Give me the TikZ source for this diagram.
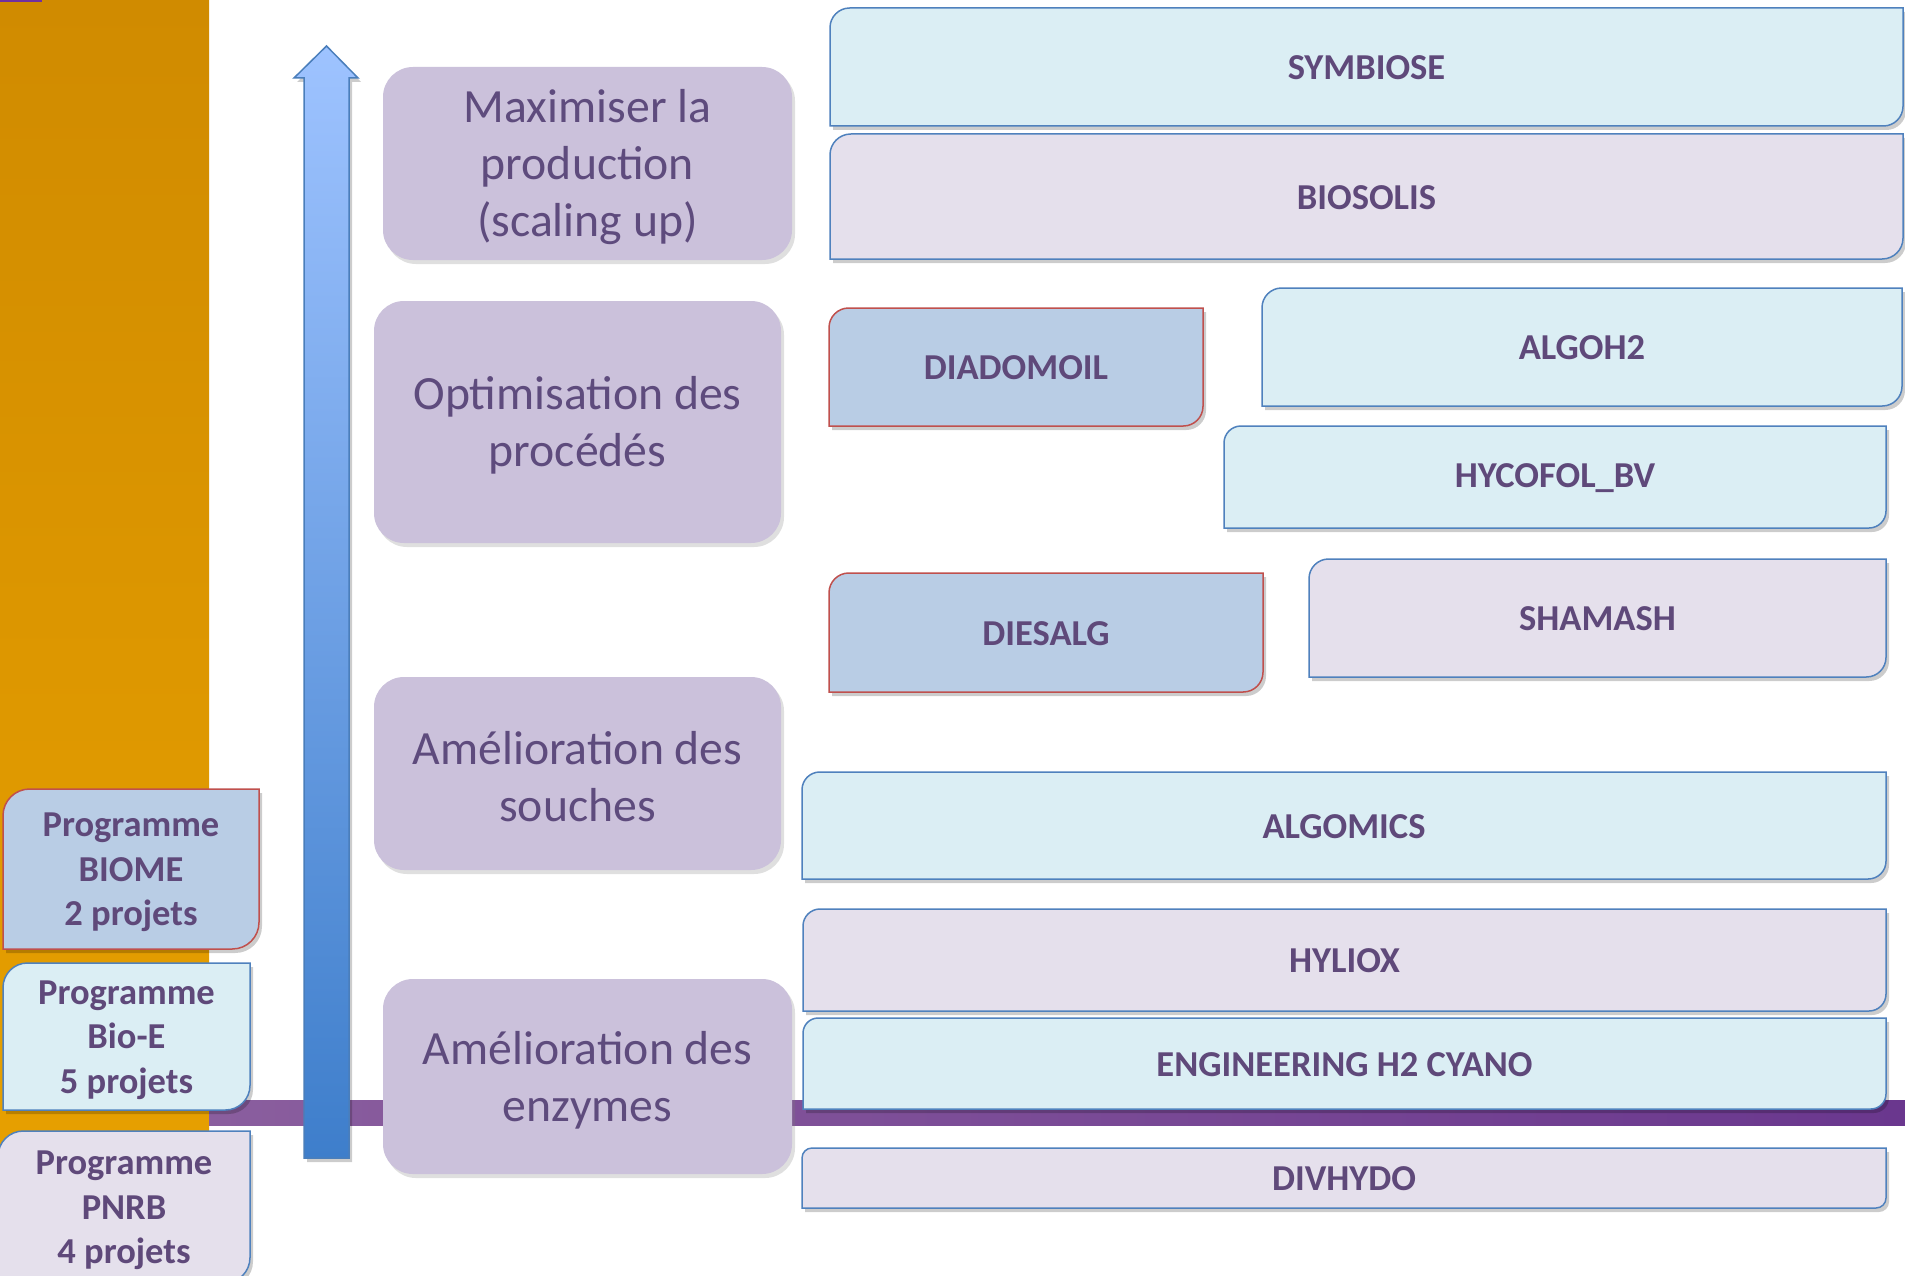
\documentclass[tikz,border=0pt]{standalone}
\usepackage{fontspec}
\setmainfont{Carlito}
\usetikzlibrary{shadows}
\definecolor{txt}{HTML}{5F497A}
\definecolor{stxt}{HTML}{5E4B7D}
\definecolor{lblue}{HTML}{DBEEF4}
\definecolor{lilac}{HTML}{E5E0EC}
\definecolor{mblue}{HTML}{B9CDE5}
\definecolor{bdblue}{HTML}{4F81BD}
\definecolor{bdred}{HTML}{C0504D}
\definecolor{stagec}{HTML}{CBC1DB}
\definecolor{orA}{HTML}{D08B00}
\definecolor{orB}{HTML}{E9A200}
\definecolor{bandA}{HTML}{8A5E9E}
\definecolor{bandB}{HTML}{6A378E}
\definecolor{arrA}{HTML}{9EC3FF}
\definecolor{arrB}{HTML}{3E7ECB}
\definecolor{arrD}{HTML}{4A7EBB}
\definecolor{tinyp}{HTML}{7030A0}
\tikzset{
  boxtext/.style={font=\bfseries\fontsize{36.5}{44.5}\selectfont, text=txt, align=center, inner sep=0pt},
  stagebox/.style={fill=stagec, rounded corners=30pt, inner sep=0pt,
    drop shadow={shadow xshift=3pt, shadow yshift=-4pt, opacity=0.25}},
  stagetext/.style={align=center, text=stxt, font=\fontsize{47.7}{57}\selectfont, inner sep=0pt},
  boxline/.style={line width=1.5pt},
}
\def\dbShift{3.5}
% name, x1, y1, x2, y2, fill, draw, text
\newcommand\dbox[8]{%
  \pgfmathsetmacro\dbXa{#2}\pgfmathsetmacro\dbYa{#3}%
  \pgfmathsetmacro\dbXb{#4}\pgfmathsetmacro\dbYb{#5}%
  \pgfmathsetmacro\dbR{0.1667*min(#4-#2,#5-#3)}%
  \pgfmathsetmacro\dbK{0.4477*\dbR}%
  \def\dbPath{({\dbXa},{\dbYb}) -- ({\dbXa},{\dbYa+\dbR}) .. controls ({\dbXa},{\dbYa+\dbK}) and ({\dbXa+\dbK},{\dbYa}) .. ({\dbXa+\dbR},{\dbYa}) -- ({\dbXb},{\dbYa}) -- ({\dbXb},{\dbYb-\dbR}) .. controls ({\dbXb},{\dbYb-\dbK}) and ({\dbXb-\dbK},{\dbYb}) .. ({\dbXb-\dbR},{\dbYb}) -- cycle}%
  \fill[black, opacity=0.2, shift={(3,4)}] \dbPath;
  \filldraw[fill=#6, draw=#7, boxline] \dbPath;
  \node[boxtext] (#1) at ({(#2+#4)/2},{(#3+#5)/2+\dbShift}) {#8};
}
\begin{document}
\begin{tikzpicture}[x=1pt,y=-1pt]
\useasboundingbox (0,0) rectangle (1905,1276);
\clip (0,0) rectangle (1905,1276);
\fill[white] (0,0) rectangle (1905,1276);
% orange side panel
\shade[top color=orA, bottom color=orB] (0,0) rectangle (209,1276);
\fill[tinyp] (0,0) rectangle (42,2);
% purple band
\shade[left color=bandA, right color=bandB] (209,1100) rectangle (1905,1125);
% programme boxes
\dbox{biome}{3}{789}{259}{949}{mblue}{bdred}{Programme\\BIOME\\2 projets}
\dbox{bioe}{3}{963}{250}{1110}{lblue}{bdblue}{Programme\\Bio-E\\5 projets}
\dbox{pnrb}{-2}{1131}{250}{1283}{lilac}{bdblue}{Programme\\PNRB\\4 projets}
% vertical arrow
\fill[black, opacity=0.2, shift={(3,4)}] (304,1158) -- (304,78) -- (294,78) -- (326.5,46) -- (358,78) -- (349,78) -- (349,1158) -- cycle;
\shade[top color=arrA, bottom color=arrB, draw=arrD, line width=1.5pt] (304,1158) -- (304,78) -- (294,78) -- (326.5,46) -- (358,78) -- (349,78) -- (349,1158) -- cycle;
% stages
\node[stagebox, minimum width=409pt, minimum height=193pt] (s1) at (587.5,163.5) {};
\node[stagebox, minimum width=407pt, minimum height=242pt] (s2) at (577.5,422) {};
\node[stagebox, minimum width=407pt, minimum height=193pt] (s3) at (577.5,773.5) {};
\node[stagebox, minimum width=409pt, minimum height=195pt] (s4) at (587.5,1076.5) {};
\node[stagetext] (t1) at ([yshift=-3.5pt]s1.center) {Maximiser la\\production\\(scaling up)};
\node[stagetext] (t2) at ([yshift=-3.5pt]s2.center) {Optimisation des\\procédés};
\node[stagetext] (t3) at ([yshift=-3.5pt]s3.center) {Amélioration des\\souches};
\node[stagetext] (t4) at ([yshift=-3.5pt]s4.center) {Amélioration des\\enzymes};
% projects
\def\dbShift{1}
\dbox{symbiose}{830}{8}{1903}{126}{lblue}{bdblue}{SYMBIOSE}
\dbox{biosolis}{830}{134}{1903}{259}{lilac}{bdblue}{BIOSOLIS}
\dbox{algoh2}{1262}{288}{1902}{406}{lblue}{bdblue}{ALGOH2}
\dbox{diadomoil}{829}{308}{1203}{426}{mblue}{bdred}{DIADOMOIL}
\dbox{hycofol}{1224}{426}{1886}{528}{lblue}{bdblue}{HYCOFOL\_BV}
\dbox{shamash}{1309}{559}{1886}{677}{lilac}{bdblue}{SHAMASH}
\dbox{diesalg}{829}{573}{1263}{692}{mblue}{bdred}{DIESALG}
\dbox{algomics}{802}{772}{1886}{879}{lblue}{bdblue}{ALGOMICS}
\dbox{hyliox}{803}{909}{1886}{1011}{lilac}{bdblue}{HYLIOX}
\dbox{engineering}{803}{1018}{1886}{1109}{lblue}{bdblue}{ENGINEERING H2 CYANO}
\dbox{divhydo}{802}{1148}{1886}{1208}{lilac}{bdblue}{DIVHYDO}
\end{tikzpicture}
\end{document}
